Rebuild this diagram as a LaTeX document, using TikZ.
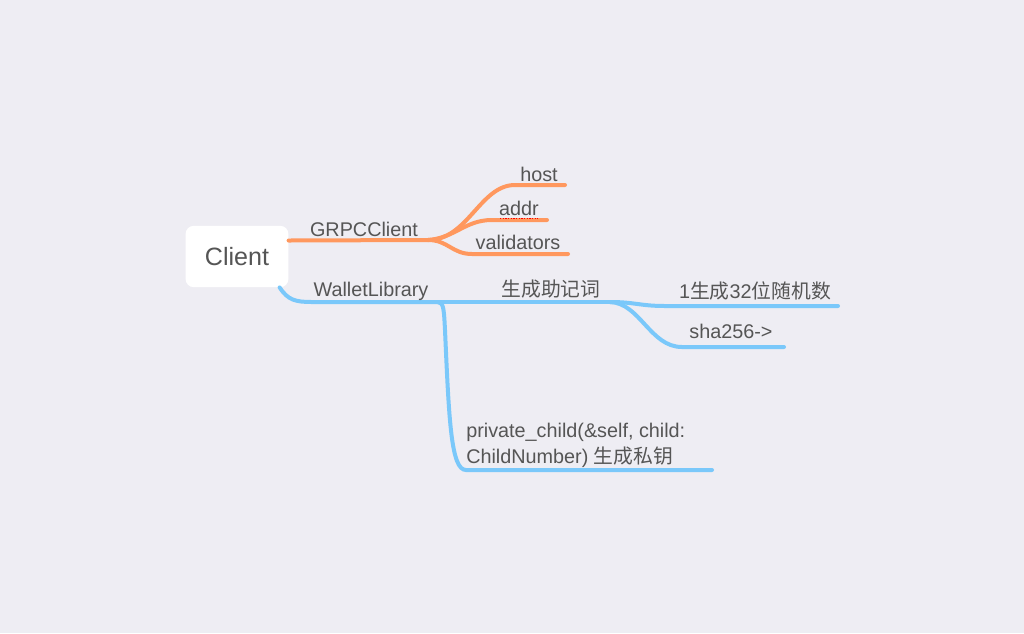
\documentclass[tikz,border=0pt]{standalone}
\usepackage{fontspec}
\setmainfont{Liberation Sans}
\newfontfamily\cjk{Noto Sans CJK SC}
\usetikzlibrary{calc,positioning}
\definecolor{bgcol}{RGB}{238,237,243}
\definecolor{txtcol}{RGB}{85,85,85}
\definecolor{grpccol}{RGB}{255,152,94}
\definecolor{walletcol}{RGB}{122,200,250}

\begin{document}
\begin{tikzpicture}[% styles used in image code
     x = 0.75pt, y = -0.75pt,
root/.style = {fill=white, rounded corners=6pt,
               minimum width=77pt, minimum height=46pt,
               text=txtcol, font=\fontsize{18.8}{22}\selectfont},
 lbl/.style = {anchor=base, inner sep=0pt, text=txtcol,
               font=\fontsize{14.85}{19.5}\selectfont},
grpc/.style = {draw=grpccol, line width=3pt, line cap=round},
wlt/.style  = {draw=walletcol, line width=3pt, line cap=round}
                    ]
	% background
	\fill[bgcol] (0,0) rectangle (1024,633);

	% root
	\node[root] (client) at (237,256.5) {Client};

	% GRPCClient branch
	\coordinate (g0) at ($(client.east)+(0,-16)$);
	\coordinate (gfork) at (428,240);
	\coordinate (host) at (565,185);
	\coordinate (addr) at (547,220);
	\coordinate (vals) at (568,254);
	\draw[grpc] (g0) -- (gfork);
	\draw[grpc] (gfork) .. controls (468,240) and (480,185) .. (515,185) -- (host);
	\draw[grpc] (gfork) .. controls (455,238) and (465,220) .. (492,220) -- (addr);
	\draw[grpc] (gfork) .. controls (448,240) and (452,254) .. (472,254) -- (vals);
	\draw[red, densely dotted, line width=1pt] (500,218.5) -- (538,218.5);

	\node[lbl] (grpclbl) at (364,236) {GRPCClient};
	\node[lbl] (hostlbl) at (539,181) {host};
	\node[lbl] (addrlbl) at (519,215) {addr};
	\node[lbl] (valslbl) at (518,249) {validators};

	% WalletLibrary branch
	\coordinate (w0) at ($(client.south east)+(-9,0)$);
	\coordinate (wfork) at (438,302);
	\coordinate (mfork) at (610,302);
	\coordinate (rand) at (838,306);
	\coordinate (sha) at (784,347);
	\coordinate (priv) at (712,470);
	\draw[wlt] (w0) .. controls (288,300) and (295,302) .. (312,302) -- (wfork);
	\draw[wlt] (wfork) -- (mfork);
	\draw[wlt] (mfork) .. controls (635,302) and (640,306) .. (665,306) -- (rand);
	\draw[wlt] (mfork) .. controls (640,303) and (650,347) .. (682,347) -- (sha);
	\draw[wlt] (wfork) .. controls (444,302) and (444,312) .. (445,330)
	           .. controls (449,420) and (451,470) .. (466,470) -- (priv);

	\node[lbl] (wltlbl) at (371,296) {WalletLibrary};
	\node[lbl] (mnemlbl) at (551,296) {\cjk 生成助记词};
	\node[lbl] (randlbl) at (755,298) {1{\cjk 生成}32{\cjk 位随机数}};
	\node[lbl] (shalbl) at (731,338) {sha256->};
	\node[lbl, anchor=base west, align=left] (privlbl) at (466,463)
	     {private\_child(\&self, child:\\ChildNumber) {\cjk 生成私钥}};
\end{tikzpicture}
\end{document}
